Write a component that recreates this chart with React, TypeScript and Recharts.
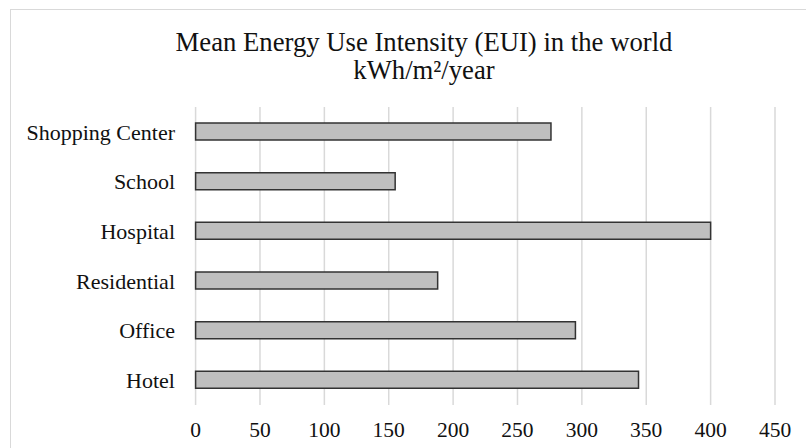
import React from "react";
import { BarChart, Bar, XAxis, YAxis, CartesianGrid } from "recharts";

const categories = ["Shopping Center", "School", "Hospital", "Residential", "Office", "Hotel"];
const euiValues = [276, 155, 400, 188, 295, 344];
const xTicks = [0, 50, 100, 150, 200, 250, 300, 350, 400, 450];
const titleLines = ["Mean Energy Use Intensity (EUI) in the world", "kWh/m²/year"];

const data = categories.map((c, i) => ({ name: c, value: euiValues[i] }));

const FONT = "'Liberation Serif', 'Times New Roman', serif";

export default function App() {
  return (
    <div
      style={{
        position: "absolute",
        left: 0,
        top: 0,
        width: 806,
        height: 448,
        overflow: "hidden",
        background: "#fff",
        fontFamily: FONT,
      }}
    >
      <div
        style={{
          position: "absolute",
          left: 10,
          top: 9,
          width: 796,
          height: 439,
          borderTop: "1.5px solid #d9d9d9",
          borderLeft: "1.5px solid #d9d9d9",
          boxSizing: "border-box",
        }}
      />
      <div style={{ position: "absolute", left: 0, top: 0 }}>
        <BarChart
          width={806}
          height={448}
          data={data}
          layout="vertical"
          margin={{ top: 107, right: 31, bottom: 0, left: 0 }}
        >
          <CartesianGrid
            horizontal={false}
            verticalValues={xTicks}
            stroke="#d9d9d9"
            strokeWidth={1.5}
          />
          <XAxis
            type="number"
            domain={[0, 450]}
            ticks={xTicks}
            interval={0}
            axisLine={false}
            tickLine={false}
            tickSize={6}
            tickMargin={11}
            height={43}
            tick={{ fill: "#111", fontSize: 21.5, fontFamily: FONT }}
          />
          <YAxis
            type="category"
            dataKey="name"
            width={195.6}
            axisLine={false}
            tickLine={false}
            tickSize={6}
            tickMargin={14.6}
            interval={0}
            tick={{ fill: "#111", fontSize: 22, fontFamily: FONT }}
          />
          <Bar
            dataKey="value"
            fill="#bfbfbf"
            stroke="#333333"
            strokeWidth={1.5}
            barSize={17}
            isAnimationActive={false}
          />
        </BarChart>
      </div>
      <svg
        width={806}
        height={448}
        style={{ position: "absolute", left: 0, top: 0, pointerEvents: "none" }}
      >
        <text x={424} y={51} textAnchor="middle" fontSize={26.7} fontFamily={FONT} fill="#111">
          {titleLines[0]}
        </text>
        <text x={424} y={78.5} textAnchor="middle" fontSize={26.7} fontFamily={FONT} fill="#111">
          {titleLines[1]}
        </text>
      </svg>
    </div>
  );
}
